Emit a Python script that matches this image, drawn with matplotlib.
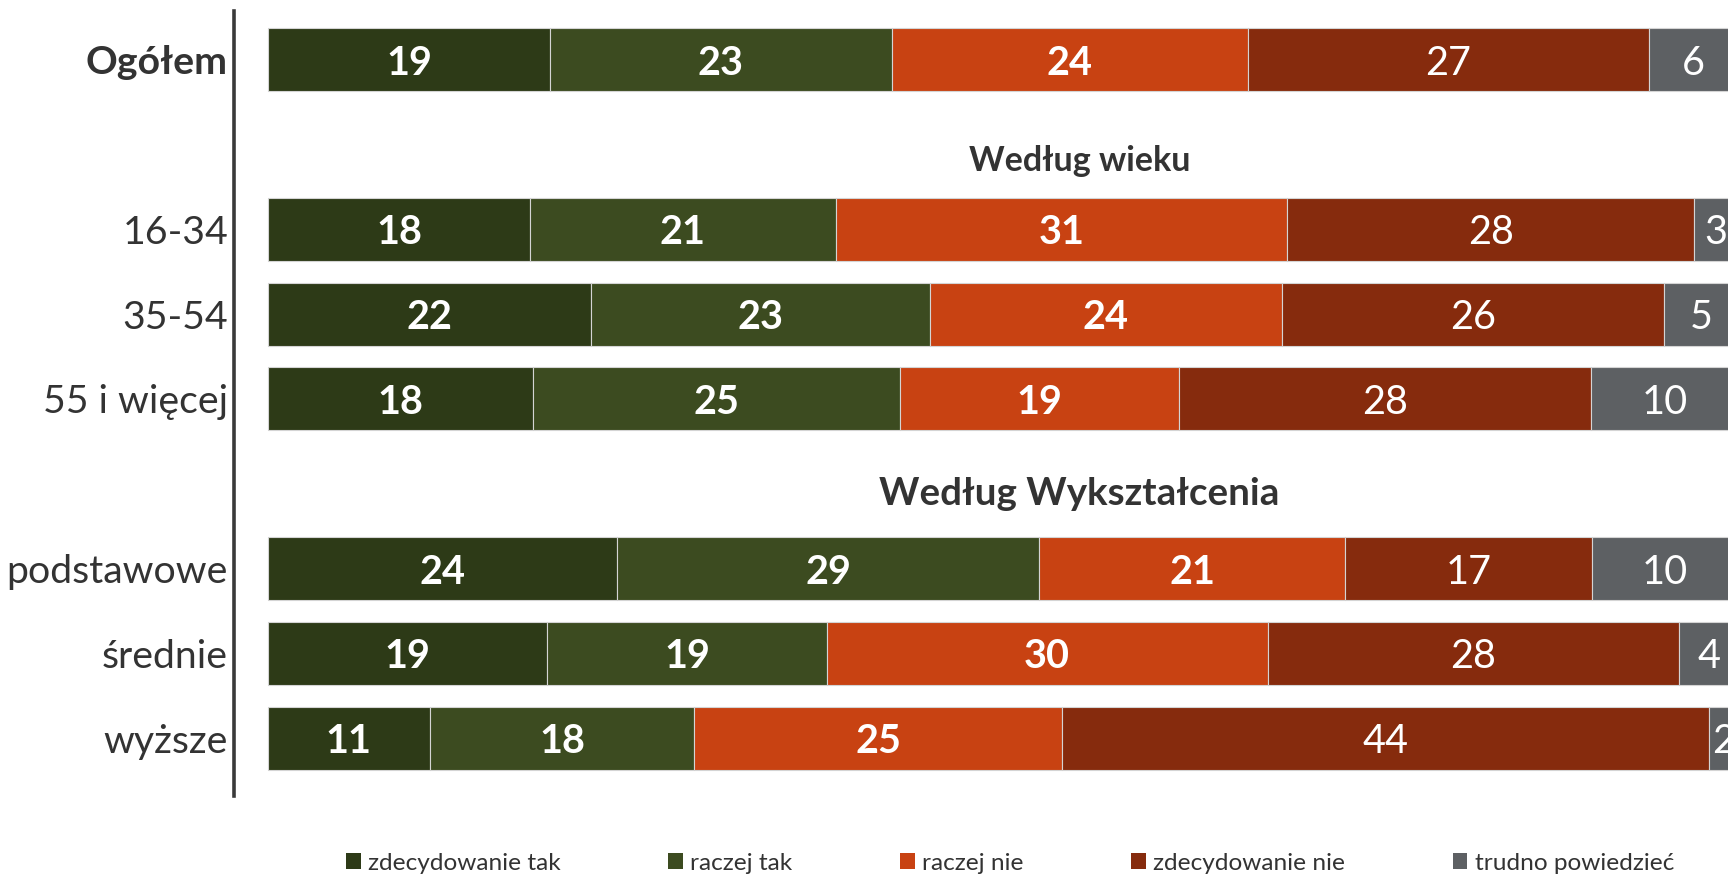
import matplotlib
matplotlib.use('Agg')
import matplotlib.pyplot as plt
from matplotlib.patches import Patch
import numpy as np

# ---- data ----
categories = ["Ogółem", "16-34", "35-54", "55 i więcej", "podstawowe", "średnie", "wyższe"]
series_names = ["zdecydowanie tak", "raczej tak", "raczej nie", "zdecydowanie nie", "trudno powiedzieć"]
zdecydowanie_tak = [19, 18, 22, 18, 24, 19, 11]
raczej_tak = [23, 21, 23, 25, 29, 19, 18]
raczej_nie = [24, 31, 24, 19, 21, 30, 25]
zdecydowanie_nie = [27, 28, 26, 28, 17, 28, 44]
trudno_powiedziec = [6, 3, 5, 10, 10, 4, 2]
group_headers = ["Według wieku", "Według Wykształcenia"]

colors = ["#2D3A17", "#3C4B20", "#C84212", "#862B0D", "#5D6063"]

plt.rcParams['font.family'] = ['Lato', 'DejaVu Sans']
text_color = "#333333"

fig = plt.figure(figsize=(17.28, 8.74), dpi=100)
ax = fig.add_axes([0.1352, 0.0892, 0.8648, 0.8982])

ypos = np.array([0, 2, 3, 4, 6, 7, 8], float)
series = [zdecydowanie_tak, raczej_tak, raczej_nie, zdecydowanie_nie, trudno_powiedziec]
data = np.array(series, float)
pct = data / data.sum(axis=0) * 100

left = np.zeros(len(categories))
for i, (name, col) in enumerate(zip(series_names, colors)):
    ax.barh(ypos, pct[i], left=left, height=0.742, color=col,
            edgecolor="#D4D4D4", linewidth=0.8, label=name)
    for y, l, w, v in zip(ypos, left, pct[i], series[i]):
        ax.text(l + w / 2, y, str(v), ha='center', va='center_baseline',
                color='white', fontsize=28.5,
                fontweight='bold' if i < 3 else 'normal', clip_on=True)
    left = left + pct[i]

ax.text(55.2, 1.156, group_headers[0], ha='center', va='center_baseline',
        fontsize=24.5, fontweight='bold', color=text_color)
ax.text(55.2, 5.085, group_headers[1], ha='center', va='center_baseline',
        fontsize=27.7, fontweight='bold', color=text_color)

ax.set_xlim(-2.34, 99.32)
ax.set_ylim(8.68, -0.572)
ax.set_xticks([])
ax.set_yticks(ypos)
ax.set_yticklabels(categories, fontsize=28.3, color=text_color)
ax.get_yticklabels()[0].set_fontweight('bold')
ax.tick_params(axis='y', length=0, pad=4)
for s in ['top', 'right', 'bottom']:
    ax.spines[s].set_visible(False)
ax.spines['left'].set_color('#3A3A3A')
ax.spines['left'].set_linewidth(2.6)

handles = [Patch(facecolor=c, edgecolor='none') for c in colors]
leg = fig.legend(handles, series_names, loc='center', bbox_to_anchor=(0.5845, 0.012),
                 ncol=5, frameon=False, fontsize=17.6, handlelength=0.6, handleheight=0.62,
                 handletextpad=0.3, columnspacing=4.4, borderaxespad=0, borderpad=0)
for t in leg.get_texts():
    t.set_color(text_color)

fig.savefig('out.png', dpi=100)
